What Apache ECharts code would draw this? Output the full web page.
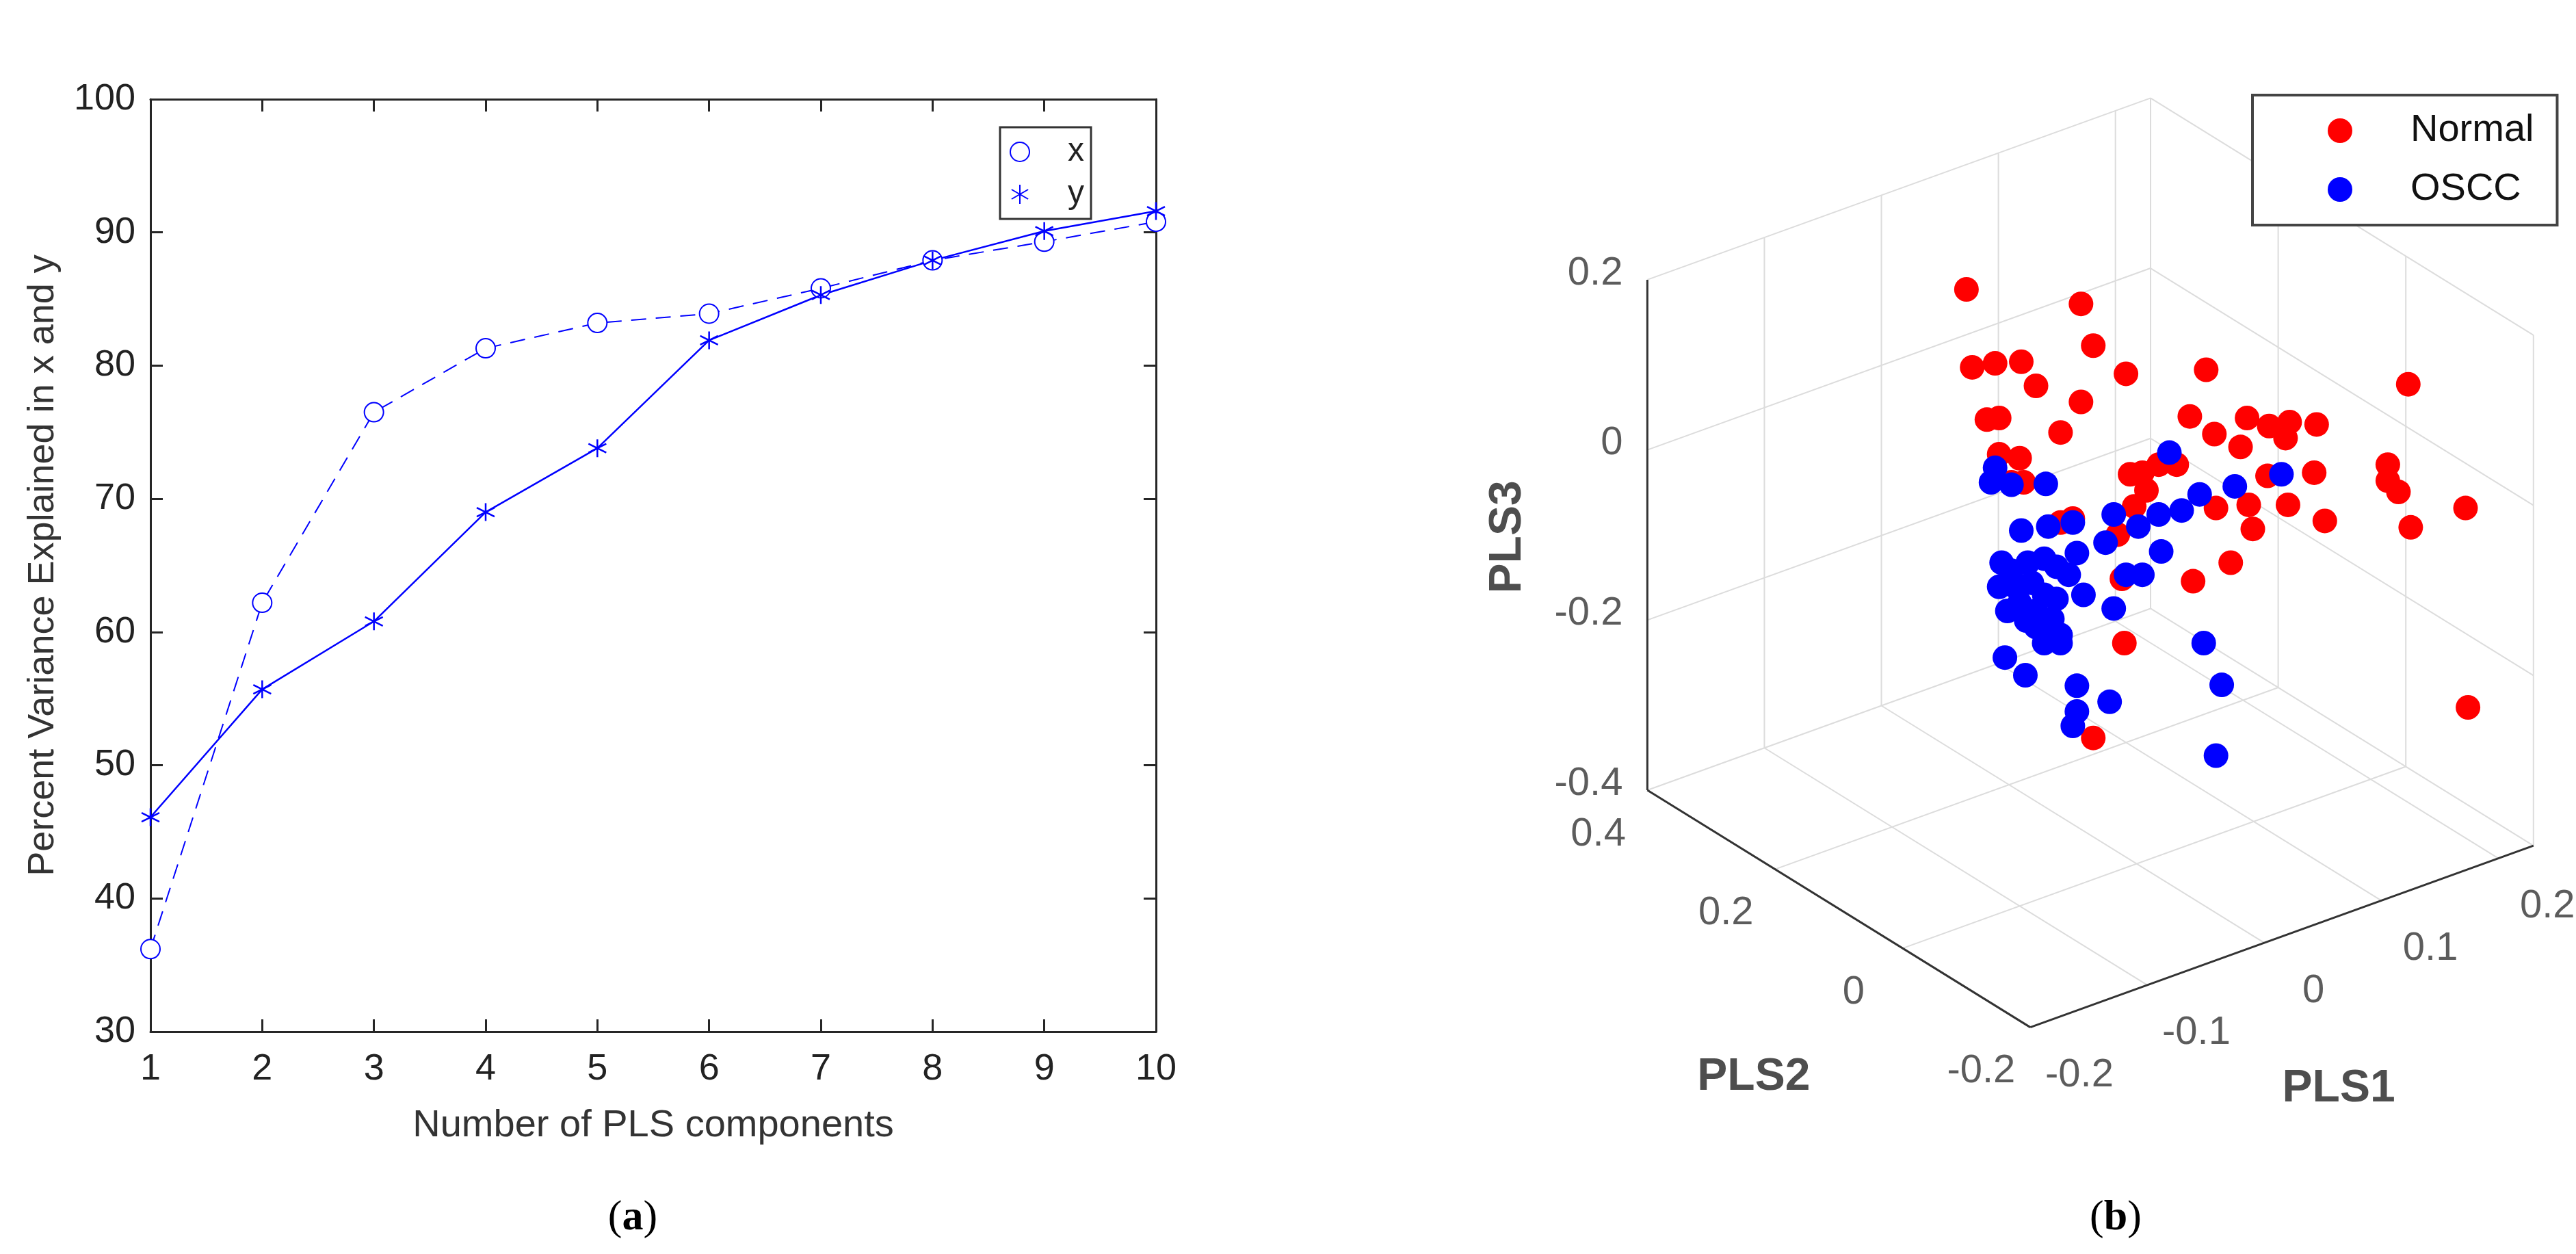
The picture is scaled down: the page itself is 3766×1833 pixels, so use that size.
<!DOCTYPE html>
<html>
<head>
<meta charset="utf-8">
<script src="https://cdn.jsdelivr.net/npm/echarts@6/dist/echarts.min.js"></script>
<style>html,body{margin:0;background:#fff}#main{width:3766px;height:1833px}</style>
</head>
<body>
<div id="main"></div>
<script>
// ---- panel (a) data ----
var components = [1, 2, 3, 4, 5, 6, 7, 8, 9, 10];
var pctX = [36.2, 62.2, 76.5, 81.3, 83.2, 83.9, 85.8, 87.9, 89.3, 90.8];
var pctY = [46.1, 55.7, 60.8, 69.0, 73.8, 81.9, 85.3, 87.9, 90.1, 91.6];

// ---- panel (b) data: projected positions ----
var normalPts = [[815,360],[955,378],[970,430],[822,457],[850,452],[882,450],[900,480],[1010,465],[1108,460],[1355,478],
  [955,500],[840,522],[855,520],[930,538],[1088,518],[1118,540],[1158,520],[1185,530],[1210,525],[1243,528],[1150,556],
  [1205,545],[855,565],[880,570],[870,600],[885,600],[1015,590],[1030,588],[1050,578],[1072,578],[1240,588],[1183,592],
  [1330,578],[1330,598],[1343,612],[1035,610],[1020,630],[1000,665],[1120,632],[1160,628],[1165,658],[1208,628],
  [1253,648],[1425,632],[1358,656],[945,645],[930,650],[1005,720],[1092,723],[1138,700],[1008,800],[1428,880],[970,918]];
var osccPts = [[1063,563],[1200,590],[1143,605],[850,582],[845,600],[870,603],[912,602],[1100,615],[1078,635],[995,640],
  [1050,640],[1025,655],[945,650],[915,655],[882,660],[985,675],[1053,686],[950,688],[858,700],[870,710],[890,700],
  [910,695],[925,705],[940,715],[855,730],[875,730],[895,725],[910,740],[925,745],[1010,715],[1030,715],[958,740],
  [995,757],[888,772],[900,780],[915,790],[930,800],[930,790],[910,800],[862,818],[887,840],[950,853],[990,873],
  [1105,800],[1127,852],[950,885],[945,903],[1120,940],[880,750],[865,760],[900,760],[920,770]];
var pls1Ticks = [-0.2, -0.1, 0, 0.1, 0.2];
var pls2Ticks = [-0.2, 0, 0.2, 0.4];
var pls3Ticks = [-0.4, -0.2, 0, 0.2];
var pls1Range = [-0.2, 0.23], pls2Range = [-0.2, 0.4], pls3Range = [-0.4, 0.2];

// projection of the 3D box onto the panel's plane coordinates
var O = [893, 1278], U = [615, -226], V = [-468, -295], W = [0, -635];
function proj(a, b, c) {
  var fu = (a - pls1Range[0]) / (pls1Range[1] - pls1Range[0]);
  var fv = (b - pls2Range[0]) / (pls2Range[1] - pls2Range[0]);
  var fw = (c - pls3Range[0]) / (pls3Range[1] - pls3Range[0]);
  return [O[0] + U[0] * fu + V[0] * fv + W[0] * fw, O[1] + U[1] * fu + V[1] * fv + W[1] * fw];
}
function seg(p, q) { return [p[0], p[1], q[0], q[1]]; }

var gridSegs = [], axisSegs = [];
var x0 = pls1Range[0], x1 = pls1Range[1], y0 = pls2Range[0], y1 = pls2Range[1], z0 = pls3Range[0], z1 = pls3Range[1];
pls1Ticks.forEach(function (t) {
  if (t > x0) {
    gridSegs.push(seg(proj(t, y1, z0), proj(t, y1, z1)));   // back wall
    gridSegs.push(seg(proj(t, y0, z0), proj(t, y1, z0)));   // floor
  }
});
pls2Ticks.forEach(function (t) {
  if (t > y0 && t < y1) {
    gridSegs.push(seg(proj(x1, t, z0), proj(x1, t, z1)));  // side wall
    gridSegs.push(seg(proj(x0, t, z0), proj(x1, t, z0)));   // floor
  }
});
pls3Ticks.forEach(function (t) {
  if (t > z0) {
    gridSegs.push(seg(proj(x0, y1, t), proj(x1, y1, t)));
    gridSegs.push(seg(proj(x1, y1, t), proj(x1, y0, t)));
  }
});
gridSegs.push(seg(proj(x1, y1, z0), proj(x1, y1, z1)));
gridSegs.push(seg(proj(x1, y0, z0), proj(x1, y0, z1)));
gridSegs.push(seg(proj(x1, y1, z0), proj(x1, y0, z0)));
gridSegs.push(seg(proj(x0, y1, z0), proj(x1, y1, z0)));
axisSegs.push(seg(proj(x0, y1, z0), proj(x0, y1, z1)));
axisSegs.push(seg(proj(x0, y1, z0), proj(x0, y0, z0)));
axisSegs.push(seg(proj(x0, y0, z0), proj(x1, y0, z0)));

var labelFont = 'Liberation Sans Narrow, Liberation Sans, Arial, sans-serif';
var boxLabels = [];
pls3Ticks.forEach(function (t) {
  var p = proj(x0, y1, t);
  boxLabels.push({ value: [p[0] - 30, p[1] - 8], name: String(t), label: { align: 'right' } });
});
pls2Ticks.forEach(function (t) {
  var p = proj(x0, t, z0);
  boxLabels.push({ value: [p[0] - 60, p[1] + 55], name: String(t) });
});
pls1Ticks.forEach(function (t) {
  var p = proj(t, y0, z0);
  boxLabels.push({ value: [p[0] + 60, p[1] + 60], name: String(t) });
});
var axisNames = [
  { value: [255, 668], name: 'PLS3', label: { rotate: 90 } },
  { value: [555, 1340], name: 'PLS2' },
  { value: [1270, 1355], name: 'PLS1' }
];

var asterisk = 'path://M0,-10L0,10M-8.66,-5L8.66,5M-8.66,5L8.66,-5';
var chart = echarts.init(document.getElementById('main'));
chart.setOption({
  backgroundColor: '#fff',
  animation: false,
  textStyle: { fontFamily: labelFont },
  title: [
    { text: '({b|a})', left: 920, top: 1745, textAlign: 'center',
      textStyle: { fontFamily: 'Liberation Serif', fontSize: 62, fontWeight: 'normal', color: '#000',
        rich: { b: { fontFamily: 'Liberation Serif', fontSize: 62, fontWeight: 'bold' } } } },
    { text: '({b|b})', left: 3088, top: 1745, textAlign: 'center',
      textStyle: { fontFamily: 'Liberation Serif', fontSize: 62, fontWeight: 'normal', color: '#000',
        rich: { b: { fontFamily: 'Liberation Serif', fontSize: 62, fontWeight: 'bold' } } } }
  ],
  legend: [
    { data: [{ name: 'x', icon: 'emptyCircle' }, { name: 'y', icon: asterisk }],
      orient: 'vertical', left: 1462, top: 186, width: 194, itemWidth: 130, itemHeight: 28,
      itemGap: 14, padding: [12, 10, 12, 14], borderColor: '#333', borderWidth: 3, backgroundColor: '#fff',
      textStyle: { fontSize: 48, color: '#222', fontFamily: labelFont } },
    { data: ['Normal', 'OSCC'], orient: 'vertical', left: 3293, top: 139, itemWidth: 36, itemHeight: 36,
      itemGap: 30, padding: [24, 34, 24, 110], borderColor: '#444', borderWidth: 4, backgroundColor: '#fff',
      textStyle: { fontSize: 56, color: '#111', fontFamily: labelFont, padding: [0, 0, 0, 80] } }
  ],
  grid: [
    { left: 220, top: 145, width: 1470, height: 1363 },
    { left: 1900, top: 0, width: 1866, height: 1833 }
  ],
  xAxis: [
    { gridIndex: 0, type: 'value', min: 1, max: 10, interval: 1, position: 'bottom',
      name: 'Number of PLS components', nameLocation: 'middle', nameGap: 110,
      nameTextStyle: { fontSize: 56, color: '#333' },
      axisLine: { lineStyle: { color: '#262626', width: 3 } },
      axisTick: { inside: true, length: 18, lineStyle: { width: 3 } },
      axisLabel: { fontSize: 54, color: '#222', margin: 28 }, splitLine: { show: false } },
    { gridIndex: 0, type: 'value', min: 1, max: 10, interval: 1, position: 'top',
      axisLine: { lineStyle: { color: '#262626', width: 3 } },
      axisTick: { inside: true, length: 18, lineStyle: { width: 3 } },
      axisLabel: { show: false }, splitLine: { show: false } },
    { gridIndex: 1, type: 'value', min: 0, max: 1560, show: false }
  ],
  yAxis: [
    { gridIndex: 0, type: 'value', min: 30, max: 100, interval: 10, position: 'left',
      name: 'Percent Variance Explained in x and y', nameLocation: 'middle', nameGap: 130,
      nameTextStyle: { fontSize: 54, color: '#333' },
      axisLine: { show: true, lineStyle: { color: '#262626', width: 3 } },
      axisTick: { show: true, inside: true, length: 18, lineStyle: { width: 3 } },
      axisLabel: { fontSize: 54, color: '#222', margin: 22 }, splitLine: { show: false } },
    { gridIndex: 0, type: 'value', min: 30, max: 100, interval: 10, position: 'right',
      axisLine: { show: true, lineStyle: { color: '#262626', width: 3 } },
      axisTick: { show: true, inside: true, length: 18, lineStyle: { width: 3 } },
      axisLabel: { show: false }, splitLine: { show: false } },
    { gridIndex: 1, type: 'value', min: 0, max: 1560, inverse: true, show: false }
  ],
  series: [
    { name: 'x', type: 'line', xAxisIndex: 0, yAxisIndex: 0,
      data: components.map(function (c, i) { return [c, pctX[i]]; }),
      symbol: 'emptyCircle', symbolSize: 28,
      lineStyle: { color: '#0000ff', width: 2, type: [22, 14] },
      itemStyle: { color: '#0000ff', borderColor: '#0000ff', borderWidth: 2 } },
    { name: 'y', type: 'line', xAxisIndex: 0, yAxisIndex: 0,
      data: components.map(function (c, i) { return [c, pctY[i]]; }),
      symbol: asterisk, symbolSize: 26,
      lineStyle: { color: '#0000ff', width: 2.5 },
      itemStyle: { color: '#0000ff', borderColor: '#0000ff', borderWidth: 2.5 } },
    { type: 'custom', xAxisIndex: 2, yAxisIndex: 2, silent: true, z: 1,
      data: gridSegs,
      renderItem: function (params, api) {
        var a = api.coord([api.value(0), api.value(1)]), b = api.coord([api.value(2), api.value(3)]);
        return { type: 'line', shape: { x1: a[0], y1: a[1], x2: b[0], y2: b[1] }, style: { stroke: '#dcdcdc', lineWidth: 2 } };
      } },
    { type: 'custom', xAxisIndex: 2, yAxisIndex: 2, silent: true, z: 2,
      data: axisSegs,
      renderItem: function (params, api) {
        var a = api.coord([api.value(0), api.value(1)]), b = api.coord([api.value(2), api.value(3)]);
        return { type: 'line', shape: { x1: a[0], y1: a[1], x2: b[0], y2: b[1] }, style: { stroke: '#333', lineWidth: 3 } };
      } },
    { name: 'Normal', type: 'scatter', xAxisIndex: 2, yAxisIndex: 2, z: 3,
      data: normalPts, symbolSize: 36, itemStyle: { color: '#ff0000', opacity: 1 } },
    { name: 'OSCC', type: 'scatter', xAxisIndex: 2, yAxisIndex: 2, z: 4,
      data: osccPts, symbolSize: 36, itemStyle: { color: '#0000ff', opacity: 1 } },
    { type: 'scatter', xAxisIndex: 2, yAxisIndex: 2, silent: true, symbolSize: 0,
      data: boxLabels,
      label: { show: true, position: 'inside', formatter: '{b}', fontSize: 58, color: '#333', fontFamily: labelFont } },
    { type: 'scatter', xAxisIndex: 2, yAxisIndex: 2, silent: true, symbolSize: 0,
      data: axisNames,
      label: { show: true, position: 'inside', formatter: '{b}', fontSize: 66, fontWeight: 'bold', color: '#222', fontFamily: labelFont } }
  ]
});
</script>
</body>
</html>
